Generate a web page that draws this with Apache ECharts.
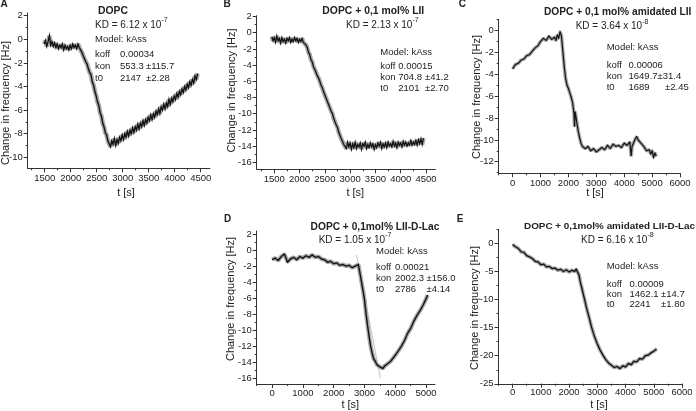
<!DOCTYPE html>
<html><head><meta charset="utf-8">
<script src="https://cdn.jsdelivr.net/npm/echarts@6/dist/echarts.min.js"></script>
<style>html,body{margin:0;padding:0;background:#fff}#c{width:696px;height:411px}</style>
</head><body><div id="c"></div>
<script>
// ---------------- data ----------------
// Panel A: [t (s), change in frequency (Hz)]
const curveA = [[1490,-0.4],[1515,-0.1],[1540,-0.6],[1565,-0.2],[1590,0.3],[1615,-0.5],[1640,-0.2],[1665,-0.6],[1690,-0.3],[1715,-0.7],[1740,-0.4],[1765,-0.8],[1790,-0.5],[1815,-0.7],[1840,-0.4],[1865,-0.9],[1890,-0.5],[1915,-0.8],[1940,-0.6],[1965,-0.9],[1990,-0.5],[2015,-0.8],[2040,-0.4],[2065,-0.7],[2090,-0.5],[2115,-0.8],[2140,-0.4],[2165,-0.7],[2190,-0.9],[2215,-1.1],[2240,-1.4],[2265,-1.5],[2290,-1.9],[2315,-2.1],[2340,-2.5],[2365,-2.8],[2390,-3.0],[2415,-3.6],[2440,-3.9],[2465,-4.4],[2490,-4.8],[2515,-5.3],[2540,-5.6],[2565,-6.2],[2590,-6.5],[2615,-7.1],[2640,-7.4],[2665,-7.9],[2690,-8.1],[2715,-8.6],[2740,-8.5],[2765,-9.1],[2790,-8.6],[2815,-8.9],[2840,-8.4],[2865,-9.0],[2890,-8.5],[2915,-8.8],[2940,-8.3],[2965,-8.6],[2990,-8.1],[3015,-8.5],[3040,-8.0],[3065,-8.3],[3090,-7.8],[3115,-8.2],[3140,-7.7],[3165,-8.0],[3190,-7.5],[3215,-7.9],[3240,-7.4],[3265,-7.7],[3290,-7.2],[3315,-7.6],[3340,-7.1],[3365,-7.4],[3390,-6.9],[3415,-7.3],[3440,-6.8],[3465,-7.1],[3490,-6.6],[3515,-6.9],[3540,-6.4],[3565,-6.8],[3590,-6.3],[3615,-6.6],[3640,-6.1],[3665,-6.4],[3690,-5.9],[3715,-6.3],[3740,-5.7],[3765,-6.0],[3790,-5.5],[3815,-5.9],[3840,-5.4],[3865,-5.7],[3890,-5.1],[3915,-5.5],[3940,-5.0],[3965,-5.3],[3990,-4.8],[4015,-5.1],[4040,-4.6],[4065,-4.9],[4090,-4.4],[4115,-4.7],[4140,-4.2],[4165,-4.5],[4190,-4.0],[4215,-4.3],[4240,-3.8],[4265,-4.1],[4290,-3.6],[4315,-3.9],[4340,-3.4],[4365,-3.7],[4390,-3.1],[4415,-3.4],[4440,-2.9]];

// Panel B
const curveB = [[1450,-0.5],[1475,-1.0],[1500,-0.6],[1525,-1.2],[1550,-0.4],[1575,-1.0],[1600,-0.7],[1625,-1.3],[1650,-0.6],[1675,-1.1],[1700,-0.8],[1725,-1.3],[1750,-0.7],[1775,-1.0],[1800,-0.6],[1825,-1.2],[1850,-0.8],[1875,-1.1],[1900,-0.6],[1925,-1.0],[1950,-0.7],[1975,-1.2],[2000,-0.8],[2025,-1.1],[2050,-0.7],[2075,-1.2],[2100,-1.0],[2125,-1.5],[2150,-1.8],[2175,-2.4],[2200,-2.7],[2225,-3.3],[2250,-3.6],[2275,-4.2],[2300,-4.5],[2325,-4.9],[2350,-5.3],[2375,-5.6],[2400,-6.0],[2425,-6.5],[2450,-6.8],[2475,-7.3],[2500,-7.5],[2525,-8.1],[2550,-8.3],[2575,-8.9],[2600,-9.1],[2625,-9.7],[2650,-10.0],[2675,-10.6],[2700,-10.8],[2725,-11.4],[2750,-11.7],[2775,-12.3],[2800,-12.5],[2825,-13.1],[2850,-13.2],[2875,-13.8],[2900,-13.6],[2925,-14.3],[2950,-13.5],[2975,-14.1],[3000,-13.6],[3025,-14.4],[3050,-13.7],[3075,-14.2],[3100,-13.5],[3125,-14.3],[3150,-13.8],[3175,-14.1],[3200,-13.6],[3225,-14.4],[3250,-13.7],[3275,-14.0],[3300,-13.5],[3325,-14.3],[3350,-13.8],[3375,-14.2],[3400,-13.6],[3425,-14.1],[3450,-13.7],[3475,-14.4],[3500,-13.8],[3525,-14.2],[3550,-13.6],[3575,-14.0],[3600,-13.5],[3625,-14.3],[3650,-13.7],[3675,-14.1],[3700,-13.6],[3725,-14.2],[3750,-13.5],[3775,-14.0],[3800,-13.7],[3825,-14.1],[3850,-13.4],[3875,-14.0],[3900,-13.6],[3925,-14.2],[3950,-13.5],[3975,-13.9],[4000,-13.6],[4025,-14.1],[4050,-13.4],[4075,-13.9],[4100,-13.5],[4125,-14.0],[4150,-13.6],[4175,-13.9],[4200,-13.3],[4225,-13.9],[4250,-13.5],[4275,-13.8],[4300,-13.3],[4325,-13.9],[4350,-13.2],[4375,-13.7],[4400,-13.1],[4425,-13.8],[4450,-13.0]];

// Panel C
const timeC = [0,100,200,300,400,500,600,700,800,900,1000,1100,1200,1300,1400,1500,1550,1600,1650,1700,1750,1800,1850,1900,1950,2000,2050,2100,2150,2200,2220,2240,2300,2350,2400,2450,2500,2600,2700,2800,2900,3000,3100,3200,3300,3400,3500,3600,3700,3800,3900,4000,4100,4200,4250,4280,4350,4400,4450,4500,4550,4600,4700,4800,4900,4950,5000,5050,5100,5150];
const valueC = [-3.5,-3.1,-3.0,-2.7,-2.6,-2.3,-2.2,-1.9,-1.6,-1.4,-1.0,-0.7,-0.9,-0.5,-0.8,-0.6,-0.9,-0.4,-0.7,-0.1,-0.5,-1.9,-3.3,-4.4,-5.0,-5.3,-5.7,-6.1,-6.6,-7.6,-8.8,-7.4,-8.4,-9.2,-9.8,-10.3,-10.6,-10.8,-10.6,-11.0,-10.8,-11.1,-10.9,-10.7,-10.9,-10.5,-10.8,-10.4,-10.6,-10.5,-10.7,-10.3,-10.5,-10.2,-11.5,-10.6,-10.2,-9.9,-9.7,-10.0,-9.9,-10.3,-10.6,-11.0,-10.9,-11.3,-11.0,-11.6,-11.2,-11.5];

// Panel D
const timeD = [0,100,200,300,400,450,500,600,700,800,900,1000,1100,1200,1300,1400,1500,1600,1700,1800,1900,2000,2100,2200,2300,2400,2500,2600,2700,2750,2800,2850,2900,2950,3000,3050,3100,3150,3200,3250,3300,3350,3400,3450,3500,3550,3600,3650,3700,3750,3800,3850,3900,3950,4000,4100,4200,4300,4400,4500,4600,4700,4800,4900,5000,5050];
const valueD = [-1.2,-1.0,-1.3,-0.8,-0.5,-1.0,-1.5,-1.1,-0.9,-1.2,-0.8,-1.0,-0.7,-0.9,-0.6,-0.9,-0.8,-1.1,-1.2,-1.5,-1.4,-1.7,-1.6,-1.9,-1.8,-2.0,-1.9,-2.2,-2.0,-2.2,-1.8,-2.8,-3.9,-5.0,-6.2,-7.9,-9.4,-10.8,-12.0,-12.9,-13.6,-13.9,-14.3,-14.2,-14.6,-14.4,-14.8,-14.5,-14.6,-14.2,-14.3,-13.9,-13.8,-13.4,-13.3,-12.6,-12.0,-11.3,-10.4,-9.8,-8.9,-8.2,-7.6,-6.9,-6.1,-5.6];
const fitTimeD = [2740,3520];
const fitValueD = [-0.6,-16.0];

// Panel E
const timeE = [0,100,200,300,400,500,600,700,800,900,1000,1100,1200,1300,1400,1500,1600,1700,1800,1900,2000,2100,2200,2250,2300,2350,2400,2450,2500,2550,2600,2650,2700,2750,2800,2900,3000,3100,3200,3300,3400,3500,3600,3700,3800,3900,4000,4100,4200,4300,4400,4500,4600,4700,4800,4900,5000,5100];
const valueE = [-0.2,-0.6,-0.9,-1.5,-1.6,-2.2,-2.4,-2.7,-3.2,-3.3,-3.8,-3.7,-4.2,-4.1,-4.5,-4.4,-4.8,-4.6,-5.0,-4.7,-5.1,-4.8,-5.0,-4.6,-4.4,-5.6,-6.9,-7.9,-9.0,-10.0,-11.1,-12.1,-13.0,-14.0,-15.0,-16.6,-17.9,-19.0,-19.9,-20.7,-21.3,-21.7,-22.1,-21.9,-22.3,-21.8,-22.0,-21.4,-21.6,-21.0,-21.1,-20.5,-20.6,-20.0,-19.9,-19.5,-19.2,-18.8];

// tick values
const xTicksAB = [1500,2000,2500,3000,3500,4000,4500];
const xMinorAB = [1250,1500,1750,2000,2250,2500,2750,3000,3250,3500,3750,4000,4250,4500];
const yTicksA = [-10,-8,-6,-4,-2,0,2];
const yMinorA = [-10,-9,-8,-7,-6,-5,-4,-3,-2,-1,0,1,2];
const yTicksB = [-16,-14,-12,-10,-8,-6,-4,-2,0,2];
const yMinorB = [-16,-15,-14,-13,-12,-11,-10,-9,-8,-7,-6,-5,-4,-3,-2,-1,0,1,2];
const xTicksC = [0,1000,2000,3000,4000,5000,6000];
const xMinorC = [-500,0,500,1000,1500,2000,2500,3000,3500,4000,4500,5000,5500,6000];
const yTicksC = [-12,-10,-8,-6,-4,-2,0];
const yMinorC = [-13,-12,-11,-10,-9,-8,-7,-6,-5,-4,-3,-2,-1,0,1];
const xTicksD = [0,1000,2000,3000,4000,5000];
const xMinorD = [-500,0,500,1000,1500,2000,2500,3000,3500,4000,4500,5000];
const yTicksD = [-16,-14,-12,-10,-8,-6,-4,-2,0,2];
const yMinorD = [-16,-15,-14,-13,-12,-11,-10,-9,-8,-7,-6,-5,-4,-3,-2,-1,0,1,2];
const xTicksE = [0,1000,2000,3000,4000,5000,6000];
const xMinorE = [-500,0,500,1000,1500,2000,2500,3000,3500,4000,4500,5000,5500,6000];
const yTicksE = [-25,-20,-15,-10,-5,0];
const yMinorE = [-25,-22.5,-20,-17.5,-15,-12.5,-10,-7.5,-5,-2.5,0,2.5];

// ---------------- layout ----------------
const FONT = "'Liberation Sans', Arial, Helvetica, sans-serif";
const INK = '#222';
const zip = (t, v) => t.map((x, k) => [x, v[k]]);
const panels = [
  {data: curveA, grid:{left:27.7, top:13, width:182.3, height:155.3}, xr:[1173,4679], yr:[-10.93,2.23], xt:xTicksAB, xm:xMinorAB, yt:yTicksA, ym:yMinorA, w:1.4, hw:4.6, lm:5},
  {data: curveB, grid:{left:256.7, top:15.7, width:178.6, height:153.6}, xr:[1152,4684], yr:[-16.86,2.1], xt:xTicksAB, xm:xMinorAB, yt:yTicksB, ym:yMinorB, w:1.3, hw:4.4, lm:5},
  {data: zip(timeC, valueC), grid:{left:498.7, top:19.3, width:181.3, height:154}, xr:[-500,6000], yr:[-13.06,1.04], xt:xTicksC, xm:xMinorC, yt:yTicksC, ym:yMinorC, w:1.2, hw:3.6, lm:5},
  {data: zip(timeD, valueD), grid:{left:256.7, top:231, width:178.3, height:153}, xr:[-500,5290], yr:[-16.74,2.39], xt:xTicksD, xm:xMinorD, yt:yTicksD, ym:yMinorD, w:1.4, hw:4.2, lm:4},
  {data: zip(timeE, valueE), grid:{left:498.5, top:229.3, width:183.5, height:154.5}, xr:[-500,6000], yr:[-25,2.5], xt:xTicksE, xm:xMinorE, yt:yTicksE, ym:yMinorE, w:1.3, hw:3.8, lm:4}
];

const grids = [], xAxes = [], yAxes = [], series = [];
const lineCol = '#333';
const fmt = v => String(v);
panels.forEach((p, i) => {
  grids.push(Object.assign({containLabel:false}, p.grid));
  const labelStyle = {fontSize:9.5, fontFamily:FONT, color:INK, formatter:fmt};
  xAxes.push({gridIndex:i, type:'value', position:'bottom', min:p.xr[0], max:p.xr[1],
    axisLine:{show:true, onZero:false, lineStyle:{color:lineCol, width:1}},
    axisTick:{show:true, customValues:p.xt, length:4, lineStyle:{color:lineCol}},
    axisLabel:Object.assign({customValues:p.xt, margin:p.lm}, labelStyle),
    splitLine:{show:false}});
  xAxes.push({gridIndex:i, type:'value', position:'bottom', min:p.xr[0], max:p.xr[1],
    axisLine:{show:false, onZero:false},
    axisTick:{show:true, customValues:p.xm, length:2, lineStyle:{color:lineCol}},
    axisLabel:{show:false}, splitLine:{show:false}});
  yAxes.push({gridIndex:i, type:'value', position:'left', min:p.yr[0], max:p.yr[1],
    axisLine:{show:true, onZero:false, lineStyle:{color:lineCol, width:1}},
    axisTick:{show:true, customValues:p.yt, length:4, lineStyle:{color:lineCol}},
    axisLabel:Object.assign({customValues:p.yt, margin:5}, labelStyle),
    splitLine:{show:false}});
  yAxes.push({gridIndex:i, type:'value', position:'left', min:p.yr[0], max:p.yr[1],
    axisLine:{show:false, onZero:false},
    axisTick:{show:true, customValues:p.ym, length:2, lineStyle:{color:lineCol}},
    axisLabel:{show:false}, splitLine:{show:false}});
  series.push({type:'line', xAxisIndex:2*i, yAxisIndex:2*i, data:p.data, symbol:'none', silent:true, z:1,
    lineStyle:{color:'#a9a9a9', width:p.hw}});
  series.push({type:'line', xAxisIndex:2*i, yAxisIndex:2*i, data:p.data, symbol:'none', silent:true, z:2,
    lineStyle:{color:'#141414', width:p.w, join:'miter'}});
});
series.push({type:'line', xAxisIndex:6, yAxisIndex:6, data:zip(fitTimeD, fitValueD),
  symbol:'none', silent:true, z:0, lineStyle:{color:'#c4c4c4', width:1}});

// ---------------- texts ----------------
const g = [];
function txt(x, y, text, o) {
  o = o || {};
  g.push({type:'text', x, y, rotation:o.rot || 0, silent:true,
    style:{text, fontSize:o.size || 9.5, fontFamily:FONT, fontWeight:o.bold ? 'bold' : 'normal',
      fill:INK, align:o.align || 'left', verticalAlign:'middle'}});
}
function kd(x, y, base, exp) {
  g.push({type:'text', x, y, silent:true,
    style:{text:'{m|' + base + '}{s|' + exp + '}', align:'left', verticalAlign:'middle',
      rich:{m:{fontSize:10, fontFamily:FONT, fill:INK, verticalAlign:'bottom', padding:[3,0,0,0]},
            s:{fontSize:7, fontFamily:FONT, fill:INK, verticalAlign:'top'}}}});
}
// panel letters
txt(4, 4.5, 'A', {bold:true, size:10, align:'center'});
txt(227, 4.5, 'B', {bold:true, size:10, align:'center'});
txt(462.3, 4.5, 'C', {bold:true, size:10, align:'center'});
txt(227.7, 219, 'D', {bold:true, size:10, align:'center'});
txt(460, 219, 'E', {bold:true, size:10, align:'center'});
// titles
txt(113, 11, 'DOPC', {bold:true, size:10.4, align:'center'});
txt(373.3, 11, 'DOPC + 0,1 mol% LII', {bold:true, size:10.4, align:'center'});
txt(617.7, 11.7, 'DOPC + 0,1 mol% amidated LII', {bold:true, size:10.2, align:'center'});
txt(375, 226.7, 'DOPC + 0,1mol% LII-D-Lac', {bold:true, size:10.2, align:'center'});
txt(609.5, 226.7, 'DOPC + 0,1mol% amidated LII-D-Lac', {bold:true, size:9.9, align:'center'});
// KD
kd(95, 23.3, 'KD = 6.12 x 10', '-7');
kd(346, 23.3, 'KD = 2.13 x 10', '-7');
kd(575.7, 25, 'KD = 3.64 x 10', '-8');
kd(318.7, 238.3, 'KD = 1.05 x 10', '-7');
kd(581, 238.3, 'KD = 6.16 x 10', '-8');
// model blocks: x columns, y rows, texts
function block(x0, x1, x2, ys, koff, kon, konErr, t0, t0Err) {
  txt(x0, ys[0], 'Model: kAss');
  txt(x0, ys[1], 'koff'); txt(x1, ys[1], koff);
  txt(x0, ys[2], 'kon');  txt(x1, ys[2], kon); if (konErr) txt(x2, ys[2], konErr);
  txt(x0, ys[3], 't0');   txt(x1, ys[3], t0); txt(x2, ys[3], t0Err);
}
block(95, 120, 146, [39.3, 54, 66.5, 78], '0.00034', '553.3', '±115.7', '2147', '±2.28');
block(380.3, 398.3, 425, [52.3, 66.7, 77.3, 88.3], '0.00015', '704.8', '±41.2', '2101', '±2.70');
block(606.7, 628.5, 665, [47.3, 65.3, 76.3, 87.3], '0.00006', '1649.7±31.4', '', '1689', '±2.45');
block(376, 395, 426.5, [251.7, 267.3, 278.3, 289.7], '0.00021', '2002.3', '±156.0', '2786', '±4.14');
block(606.7, 629.5, 661, [266.7, 284, 294, 304], '0.00009', '1462.1', '±14.7', '2241', '±1.80');
// axis titles
const yTitle = 'Change in frequency [Hz]';
[[5.5,103],[231.5,90.5],[476.7,97],[231,299],[474.7,308]].forEach(p => txt(p[0], p[1], yTitle, {size:11, align:'center', rot:Math.PI/2}));
[[126,192.7],[355.3,192.7],[595,192.7],[350.3,404.5],[599,404.5]].forEach(p => txt(p[0], p[1], 't [s]', {size:11, align:'center'}));

const chart = echarts.init(document.getElementById('c'), null, {renderer:'canvas'});
chart.setOption({animation:false, backgroundColor:'#fff', grid:grids, xAxis:xAxes, yAxis:yAxes, series, graphic:g});
</script></body></html>
